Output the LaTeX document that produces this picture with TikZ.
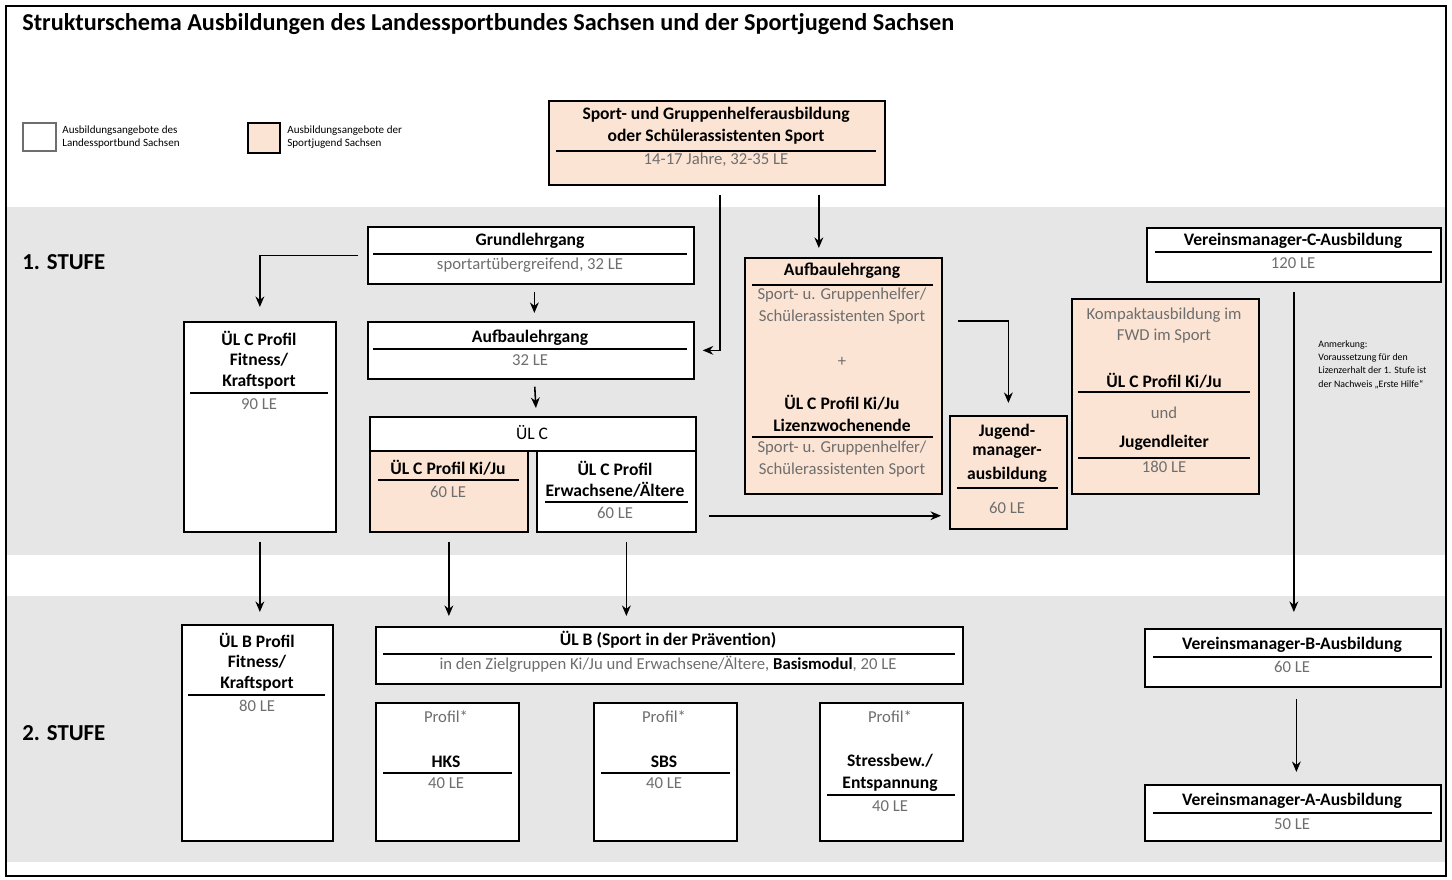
\documentclass[tikz,border=0pt]{standalone}
\usepackage{fontspec}
\setmainfont{Carlito}
\usetikzlibrary{positioning,calc,arrows.meta}
\definecolor{peach}{RGB}{252,228,212}
\definecolor{band}{RGB}{230,230,230}
\definecolor{subgray}{RGB}{110,110,110}

\begin{document}
\begin{tikzpicture}[x=0.02cm,y=-0.02cm,
  box/.style={draw,line width=1pt,fill=white,anchor=north west,inner sep=0pt},
  obox/.style={box,fill=peach},
  head/.style={inner sep=0pt,font=\bfseries\fontsize{10}{12}\selectfont},
  sub/.style={inner sep=0pt,text=subgray,font=\fontsize{9.5}{11}\selectfont},
  rule/.style={line width=1pt},
  arr/.style={-{Stealth[length=6pt,width=5pt]},line width=0.9pt,shorten <=0.14cm,shorten >=0.16cm}]
\useasboundingbox (0,0) rectangle (1452,879);
% background bands and frame
\fill[band] (6,207) rectangle (1446,555);
\fill[band] (6,596) rectangle (1446,862);
\draw[line width=0.8pt] (6,6) rectangle (1446,876);
\node[anchor=west,inner sep=0pt,font=\bfseries\fontsize{13.8}{16}\selectfont] (title) at (22,24)
  {Strukturschema Ausbildungen des Landessportbundes Sachsen und der Sportjugend Sachsen};
\node[anchor=west,inner sep=0pt,font=\bfseries\fontsize{13}{15}\selectfont] (st1) at (22,262) {1. STUFE};
\node[anchor=west,inner sep=0pt,font=\bfseries\fontsize{13}{15}\selectfont] (st2) at (22,733) {2. STUFE};

% legend
\node[box,draw=subgray,minimum width=0.66cm,minimum height=0.56cm] (leg1) at (22,122) {};
\node[anchor=west,inner sep=0pt,align=left,font=\fontsize{6.3}{7.8}\selectfont] (leg1t) at (62,137)
  {Ausbildungsangebote des\\Landessportbund Sachsen};
\node[obox,minimum width=0.64cm,minimum height=0.6cm] (leg2) at (247,122) {};
\node[anchor=west,inner sep=0pt,align=left,font=\fontsize{6.3}{7.8}\selectfont] (leg2t) at (287,137)
  {Ausbildungsangebote der\\Sportjugend Sachsen};

% top box
\node[obox,minimum width=6.72cm,minimum height=1.68cm] (sgh) at (548,100) {};
\node[head] at (716,115) {Sport- und Gruppenhelferausbildung};
\node[head] at (716,137) {oder Schülerassistenten Sport};
\draw[rule] (556,151) -- (876,151);
\node[sub] at (716,160) {14-17 Jahre, 32-35 LE};

% 1. Stufe
\node[box,minimum width=6.52cm,minimum height=1.14cm] (grund) at (367,226) {};
\node[head] at (530,241) {Grundlehrgang};
\draw[rule] (373,254) -- (687,254);
\node[sub] at (530,265) {sportartübergreifend, 32 LE};

\node[box,minimum width=6.52cm,minimum height=1.14cm] (aufbau) at (367,321) {};
\node[head] at (530,338) {Aufbaulehrgang};
\draw[rule] (373,349) -- (687,349);
\node[sub] at (530,360) {32 LE};

\node[box,minimum width=6.52cm,minimum height=0.68cm] (ulc) at (369,416) {};
\node[sub,text=black,font=\fontsize{10}{12}\selectfont] at (532,433) {ÜL C};
\node[obox,minimum width=3.16cm,minimum height=1.62cm] (ulcki) at (369,450) {};
\node[head] at (448,468) {ÜL C Profil Ki/Ju};
\draw[rule] (378,480) -- (519,480);
\node[sub] at (448,492) {60 LE};
\node[box,minimum width=3.18cm,minimum height=1.62cm] (ulcew) at (536,450) {};
\node[head] at (615,468) {ÜL C Profil};
\node[head] at (615,490) {Erwachsene/Ältere};
\draw[rule] (545,502) -- (688,502);
\node[sub] at (615,513) {60 LE};

\node[box,minimum width=3.04cm,minimum height=4.2cm] (ulcfit) at (183,321) {};
\node[head] at (259,338) {ÜL C Profil};
\node[head] at (259,360) {Fitness/};
\node[head] at (259,382) {Kraftsport};
\draw[rule] (190,393) -- (328,393);
\node[sub] at (259,404) {90 LE};

\node[obox,minimum width=3.94cm,minimum height=4.72cm] (aufbauo) at (744,257) {};
\node[head] at (842,271) {Aufbaulehrgang};
\draw[rule] (752,285) -- (933,285);
\node[sub] at (842,295) {Sport- u. Gruppenhelfer/};
\node[sub] at (842,317) {Schülerassistenten Sport};
\node[sub] at (842,362) {+};
\node[head] at (842,403) {ÜL C Profil Ki/Ju};
\node[head] at (842,425) {Lizenzwochenende};
\draw[rule] (752,437) -- (933,437);
\node[sub] at (842,448) {Sport- u. Gruppenhelfer/};
\node[sub] at (842,470) {Schülerassistenten Sport};

\node[obox,minimum width=2.34cm,minimum height=2.26cm] (jgm) at (949,415) {};
\node[head] at (1007,432) {Jugend-};
\node[head] at (1007,453) {manager-};
\node[head] at (1007,475) {ausbildung};
\draw[rule] (957,488) -- (1058,488);
\node[sub] at (1007,508) {60 LE};

\node[obox,minimum width=3.74cm,minimum height=3.9cm] (kompakt) at (1071,298) {};
\node[sub] at (1164,315) {Kompaktausbildung im};
\node[sub] at (1164,336) {FWD im Sport};
\node[head] at (1164,381) {ÜL C Profil Ki/Ju};
\draw[rule] (1078,392) -- (1250,392);
\node[sub] at (1164,413) {und};
\node[head] at (1164,443) {Jugendleiter};
\draw[rule] (1078,458) -- (1250,458);
\node[sub] at (1164,467) {180 LE};

\node[box,minimum width=5.88cm,minimum height=1.08cm] (vmc) at (1146,227) {};
\node[head] at (1293,241) {Vereinsmanager-C-Ausbildung};
\draw[rule] (1155,252) -- (1432,252);
\node[sub] at (1293,263) {120 LE};

\node[anchor=north west,inner sep=0pt,align=left,font=\fontsize{5.6}{7.6}\selectfont] (note) at (1318,340)
  {Anmerkung:\\Voraussetzung für den\\Lizenzerhalt der 1. Stufe ist\\der Nachweis „Erste Hilfe“};

% 2. Stufe
\node[box,minimum width=3.02cm,minimum height=4.32cm] (ulbfit) at (181,624) {};
\node[head] at (257,640) {ÜL B Profil};
\node[head] at (257,662) {Fitness/};
\node[head] at (257,684) {Kraftsport};
\draw[rule] (188,695) -- (325,695);
\node[sub] at (257,706) {80 LE};

\node[box,minimum width=11.74cm,minimum height=1.14cm] (ulb) at (375,626) {};
\node[head] at (668,640) {ÜL B (Sport in der Prävention)};
\draw[rule] (383,654) -- (955,654);
\node[sub] at (668,664) {in den Zielgruppen Ki/Ju und Erwachsene/Ältere, \textcolor{black}{\bfseries Basismodul}, 20 LE};

\node[box,minimum width=2.86cm,minimum height=2.76cm] (hks) at (375,702) {};
\node[sub] at (446,717) {Profil*};
\node[head] at (446,762) {HKS};
\draw[rule] (383,773) -- (512,773);
\node[sub] at (446,783) {40 LE};

\node[box,minimum width=2.86cm,minimum height=2.76cm] (sbs) at (593,702) {};
\node[sub] at (664,717) {Profil*};
\node[head] at (664,762) {SBS};
\draw[rule] (601,773) -- (730,773);
\node[sub] at (664,783) {40 LE};

\node[box,minimum width=2.86cm,minimum height=2.76cm] (stress) at (819,702) {};
\node[sub] at (890,717) {Profil*};
\node[head] at (890,761) {Stressbew./};
\node[head] at (890,784) {Entspannung};
\draw[rule] (827,795) -- (955,795);
\node[sub] at (890,806) {40 LE};

\node[box,minimum width=5.92cm,minimum height=1.16cm] (vmb) at (1144,628) {};
\node[head] at (1292,645) {Vereinsmanager-B-Ausbildung};
\draw[rule] (1153,657) -- (1432,657);
\node[sub] at (1292,667) {60 LE};

\node[box,minimum width=5.92cm,minimum height=1.12cm] (vma) at (1144,784) {};
\node[head] at (1292,801) {Vereinsmanager-A-Ausbildung};
\draw[rule] (1153,813) -- (1432,813);
\node[sub] at (1292,824) {50 LE};

% connectors
\coordinate (s1) at ($(sgh.south)+(3,0)$);
\coordinate (s2) at ($(sgh.south)+(102,0)$);
\coordinate (a1) at ($(aufbauo.north east)+(0,64)$);
\coordinate (e1) at ($(ulcew.south east)+(0,-17)$);
\coordinate (e2) at ($(ulcew.south)+(10,0)$);
\draw[arr,shorten <=0.18cm,shorten >=0.28cm] (grund.west) -| (ulcfit.north);
\draw[arr] ([xshift=2pt]grund.south) -- ([xshift=2pt]aufbau.north);
\draw[arr] ([xshift=2pt]aufbau.south) -- ([xshift=2pt]ulc.north);
\draw[arr,shorten <=0.18cm] (s1) |- (aufbau.east);
\draw[arr,shorten <=0.18cm,shorten >=0.18cm] (s2) -- (s2 |- aufbauo.north);
\draw[arr,shorten <=0.3cm,shorten >=0.24cm] (a1) -| (jgm.north);
\draw[arr,shorten <=0.24cm] (e1) -- (e1 -| jgm.west);
\draw[arr,shorten <=0.18cm,shorten >=0.24cm] (ulcfit.south) -- (ulcfit.south |- ulbfit.north);
\draw[arr,shorten <=0.18cm,shorten >=0.2cm] (ulcki.south) -- (ulcki.south |- ulb.north);
\draw[arr,shorten <=0.18cm,shorten >=0.2cm] (e2) -- (e2 |- ulb.north);
\draw[arr,shorten <=0.18cm,shorten >=0.32cm] (vmc.south) -- (vmc.south |- vmb.north);
\draw[arr,shorten <=0.22cm,shorten >=0.24cm] ([xshift=2pt]vmb.south) -- ([xshift=2pt]vmb.south |- vma.north);
\end{tikzpicture}
\end{document}
